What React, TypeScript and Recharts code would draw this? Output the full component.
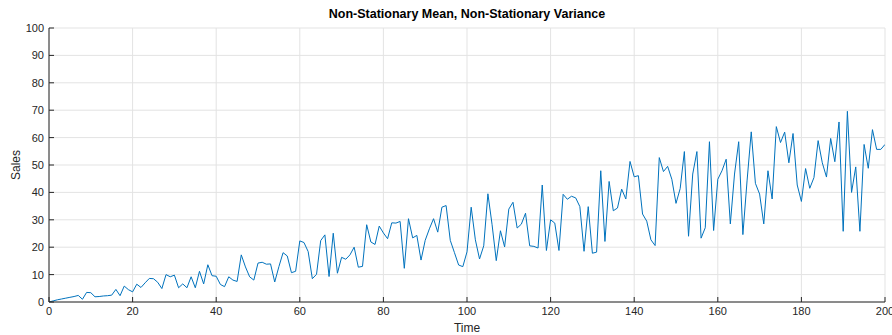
import React from 'react';
import { LineChart, Line, XAxis, YAxis, CartesianGrid } from 'recharts';

const sales: number[] = [
  0, 0.4, 0.8, 1.1, 1.4, 1.7, 2.0, 2.4, 1.0, 3.5,
  3.4, 1.9, 2.0, 2.2, 2.3, 2.5, 4.6, 2.3, 5.8, 4.5,
  3.7, 6.5, 5.3, 7.0, 8.6, 8.5, 7.2, 4.9, 10.0, 9.2,
  9.8, 5.2, 6.6, 5.2, 9.2, 5.2, 11.2, 6.6, 13.6, 9.6,
  9.4, 6.4, 5.6, 9.2, 8.0, 7.5, 17.2, 12.8, 9.2, 8.0,
  14.2, 14.5, 13.8, 13.9, 7.3, 12.9, 18.0, 16.8, 10.7, 11.2,
  22.3, 21.7, 18.4, 8.5, 10.1, 22.4, 24.5, 9.3, 25.1, 10.5,
  16.3, 15.6, 17.2, 20.0, 12.7, 13.0, 28.2, 21.9, 21.0, 27.7,
  25.2, 23.1, 28.9, 28.8, 29.4, 12.3, 30.4, 23.4, 24.3, 15.3,
  22.5, 26.7, 30.4, 25.5, 34.6, 35.2, 22.5, 18.0, 13.5, 12.9,
  18.3, 34.6, 22.7, 15.7, 20.5, 39.5, 28.2, 15.1, 26.0, 20.1,
  33.9, 36.4, 27.0, 28.4, 32.4, 20.5, 20.3, 19.7, 42.7, 18.8,
  30.0, 28.8, 18.8, 39.3, 37.5, 38.6, 38.0, 34.8, 18.5, 34.8,
  17.8, 18.2, 47.9, 22.1, 44.0, 33.3, 34.3, 41.2, 37.6, 51.3,
  45.7, 46.1, 32.1, 29.5, 22.7, 20.6, 52.7, 47.6, 49.5, 44.8,
  36.0, 41.4, 54.9, 24.0, 46.7, 54.9, 23.3, 27.1, 58.5, 26.1,
  44.8, 47.9, 52.1, 28.5, 46.7, 58.5, 24.6, 44.2, 62.1, 43.3,
  39.4, 28.5, 47.9, 37.6, 64.0, 58.2, 62.0, 50.8, 61.5, 42.7,
  36.7, 48.7, 41.5, 45.4, 58.9, 50.8, 45.6, 59.7, 51.2, 65.7,
  25.8, 69.6, 40.0, 49.3, 25.8, 57.5, 48.8, 62.9, 55.7, 55.7,
  57.5,
];
const time: number[] = sales.map((_, i) => i);
const xTicks = [0, 20, 40, 60, 80, 100, 120, 140, 160, 180, 200];
const yTicks = [0, 10, 20, 30, 40, 50, 60, 70, 80, 90, 100];

const data = time.map((t, i) => ({ time: t, sales: sales[i] }));

const FONT = '"Liberation Sans", Arial, Helvetica, sans-serif';
const AX = '#262626';
const tickStyle = { fill: AX, fontSize: 11, fontFamily: FONT };

export default function App() {
  return (
    <div style={{ position: 'absolute', left: 0, top: 0, width: 892, height: 335, background: '#fff', fontFamily: FONT, overflow: 'hidden' }}>
      <LineChart width={892} height={335} data={data} margin={{ top: 28, right: 7, bottom: 3, left: 0 }}>
        <CartesianGrid stroke="#e3e3e3" strokeWidth={1} />
        <XAxis dataKey="time" type="number" domain={[0, 200]} ticks={xTicks} interval={0}
          tickSize={-5} tickMargin={10} height={30} stroke={AX} tick={tickStyle} allowDataOverflow />
        <XAxis xAxisId="top" orientation="top" dataKey="time" type="number" domain={[0, 200]} ticks={xTicks}
          interval={0} tick={false} tickSize={-5} height={0} stroke={AX} />
        <YAxis type="number" domain={[0, 100]} ticks={yTicks} interval={0} width={49}
          tickSize={-5} tickMargin={10} stroke={AX} tick={tickStyle} allowDataOverflow />
        <YAxis yAxisId="right" orientation="right" type="number" domain={[0, 100]} ticks={yTicks} interval={0}
          width={0} tick={false} tickSize={-5} stroke={AX} />
        <Line dataKey="sales" type="linear" stroke="#0072BD" strokeWidth={1} dot={false} isAnimationActive={false} />
      </LineChart>
      <div style={{ position: 'absolute', left: 49, width: 836, top: 7, textAlign: 'center', fontWeight: 'bold', fontSize: 12.5, color: '#000', lineHeight: '15px' }}>
        Non-Stationary Mean, Non-Stationary Variance
      </div>
      <div style={{ position: 'absolute', left: 49, width: 836, top: 321, textAlign: 'center', fontSize: 12, color: AX, lineHeight: '14px' }}>
        Time
      </div>
      <div style={{ position: 'absolute', left: 16, top: 165, width: 0, height: 0 }}>
        <div style={{ position: 'absolute', left: -30, top: -7, width: 60, textAlign: 'center', fontSize: 12, color: AX, lineHeight: '14px', transform: 'rotate(-90deg)' }}>
          Sales
        </div>
      </div>
    </div>
  );
}
